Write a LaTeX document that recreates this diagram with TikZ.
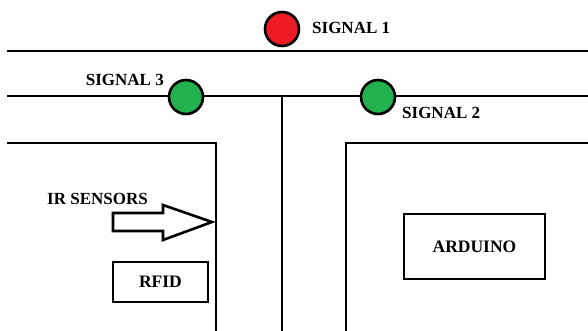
\documentclass[tikz,border=0pt]{standalone}
\usepackage{fontspec}
\setmainfont{Liberation Serif}
\definecolor{sigred}{HTML}{ED1C24}
\definecolor{siggreen}{HTML}{22B14C}
\begin{document}
\begin{tikzpicture}[x=1pt,y=-1pt,
  road/.style={line width=2.6pt},
  lamp/.style={circle,draw,line width=2.6pt,minimum size=34pt,inner sep=0pt},
  lbl/.style={font=\fontsize{17}{19}\selectfont\bfseries,inner sep=0pt},
  part/.style={draw,line width=2.6pt,font=\fontsize{17.5}{19}\selectfont\bfseries}]
\useasboundingbox (0,0) rectangle (588,331);
% roads
\coordinate (t1) at (7,51); \coordinate (t2) at (588,51);
\draw[road] (t1) -- (t2);
\coordinate (m1) at (7,96); \coordinate (m2) at (588,96);
\draw[road] (m1) -- (m2);
\coordinate (v1) at (282,96); \coordinate (v2) at (282,331);
\draw[road] (v1) -- (v2);
% blocks
\coordinate (l1) at (7,143); \coordinate (l2) at (216,143); \coordinate (l3) at (216,331);
\draw[road] (l1) -- (l2) -- (l3);
\coordinate (r1) at (588,143); \coordinate (r2) at (346,143); \coordinate (r3) at (346,331);
\draw[road] (r1) -- (r2) -- (r3);
% signals
\node[lamp,fill=sigred] (s1) at (282,29) {};
\node[lamp,fill=siggreen] (s3) at (186,97) {};
\node[lamp,fill=siggreen] (s2) at (378,97) {};
\node[lbl,anchor=west] (s1l) at (312,28) {SIGNAL 1};
\node[lbl,anchor=east] (s3l) at (164,80) {SIGNAL 3};
\node[lbl,anchor=west] (s2l) at (402,113) {SIGNAL 2};
% IR sensors
\node[lbl,anchor=west] (irl) at (47,199) {IR SENSORS};
\draw[line width=2.6pt,fill=white,line join=miter] (113,213) -- (163,213) -- (163,205) -- (212,222) -- (163,240) -- (163,231) -- (113,231) -- cycle;
% boxes
\node[part,minimum width=95pt,minimum height=40pt] (rfid) at (160.5,282) {RFID};
\node[part,minimum width=141pt,minimum height=65pt] (ard) at (474.5,246.5) {ARDUINO};
\end{tikzpicture}
\end{document}
